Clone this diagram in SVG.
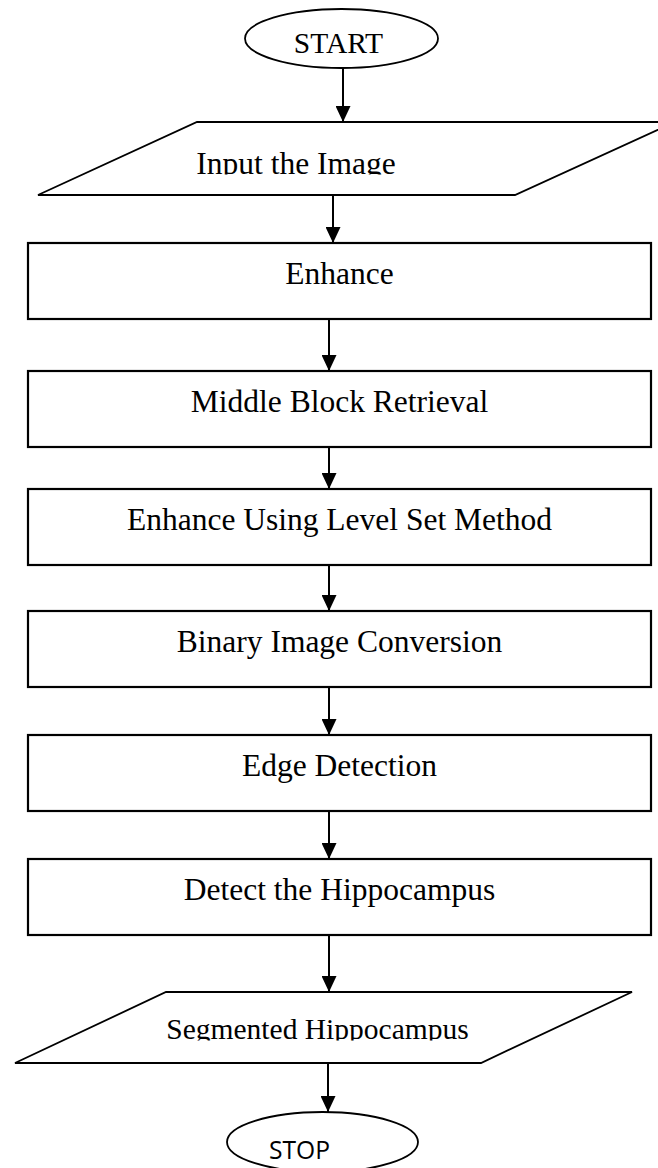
<svg xmlns="http://www.w3.org/2000/svg" width="658" height="1168" viewBox="0 0 658 1168">
<style>
.shape{fill:#fff;stroke:#000;stroke-width:1.8}
.box{fill:#fff;stroke:#000;stroke-width:2.2}
.t{font-family:"Liberation Serif","Times New Roman",serif;font-size:31.5px;fill:#000;text-anchor:middle}
.s{font-family:"Open Sans","Liberation Sans",sans-serif;font-size:26px;fill:#000;text-anchor:middle}
.c{fill:none;stroke:#000;stroke-width:2}
</style>
<defs>
<marker id="ah" viewBox="0 0 16 15" refX="16" refY="7.5" markerWidth="16" markerHeight="15" markerUnits="userSpaceOnUse" orient="auto">
<path d="M0,0 L16,7.5 L0,15 Z" fill="#000"/>
</marker>
<clipPath id="clipIn"><rect x="0" y="100" width="658" height="74.5"/></clipPath>
<clipPath id="clipSeg"><rect x="0" y="990" width="658" height="50.5"/></clipPath>
</defs>
<rect width="658" height="1168" fill="#fff"/>
<g id="connectors">
<line class="c" x1="343" y1="68" x2="343" y2="122" marker-end="url(#ah)"/>
<line class="c" x1="333" y1="195" x2="333" y2="243" marker-end="url(#ah)"/>
<line class="c" x1="329" y1="319" x2="329" y2="371" marker-end="url(#ah)"/>
<line class="c" x1="329" y1="447" x2="329" y2="489" marker-end="url(#ah)"/>
<line class="c" x1="329" y1="565" x2="329" y2="611" marker-end="url(#ah)"/>
<line class="c" x1="329" y1="687" x2="329" y2="735" marker-end="url(#ah)"/>
<line class="c" x1="329" y1="811" x2="329" y2="859" marker-end="url(#ah)"/>
<line class="c" x1="329" y1="935" x2="329" y2="992" marker-end="url(#ah)"/>
<line class="c" x1="328" y1="1063" x2="328" y2="1112" marker-end="url(#ah)"/>
</g>
<g id="start">
<ellipse class="shape" cx="341.5" cy="38.5" rx="96.5" ry="29.5"/>
<text class="t" x="338.5" y="53" style="font-size:29.5px">START</text>
</g>
<g id="input">
<polygon class="shape" points="197,122 675,122 515,195 38,195"/>
<text class="t" x="296" y="174" clip-path="url(#clipIn)">Input the Image</text>
</g>
<g id="enhance">
<rect class="box" x="28" y="243" width="623" height="76"/>
<text class="t" x="339.5" y="284">Enhance</text>
</g>
<g id="middle">
<rect class="box" x="28" y="371" width="623" height="76"/>
<text class="t" x="339.5" y="412">Middle Block Retrieval</text>
</g>
<g id="levelset">
<rect class="box" x="28" y="489" width="623" height="76"/>
<text class="t" x="339.5" y="530">Enhance Using Level Set Method</text>
</g>
<g id="binary">
<rect class="box" x="28" y="611" width="623" height="76"/>
<text class="t" x="339.5" y="652">Binary Image Conversion</text>
</g>
<g id="edge">
<rect class="box" x="28" y="735" width="623" height="76"/>
<text class="t" x="339.5" y="776">Edge Detection</text>
</g>
<g id="detect">
<rect class="box" x="28" y="859" width="623" height="76"/>
<text class="t" x="339.5" y="900">Detect the Hippocampus</text>
</g>
<g id="segmented">
<polygon class="shape" points="166,992 632,992 481,1063 15,1063"/>
<text class="t" x="317.5" y="1039" clip-path="url(#clipSeg)" style="font-size:29.5px">Segmented Hippocampus</text>
</g>
<g id="stop">
<ellipse class="shape" cx="322.5" cy="1142" rx="95.5" ry="30"/>
<text class="s" x="299.5" y="1159" textLength="61" lengthAdjust="spacingAndGlyphs">STOP</text>
</g>
</svg>
